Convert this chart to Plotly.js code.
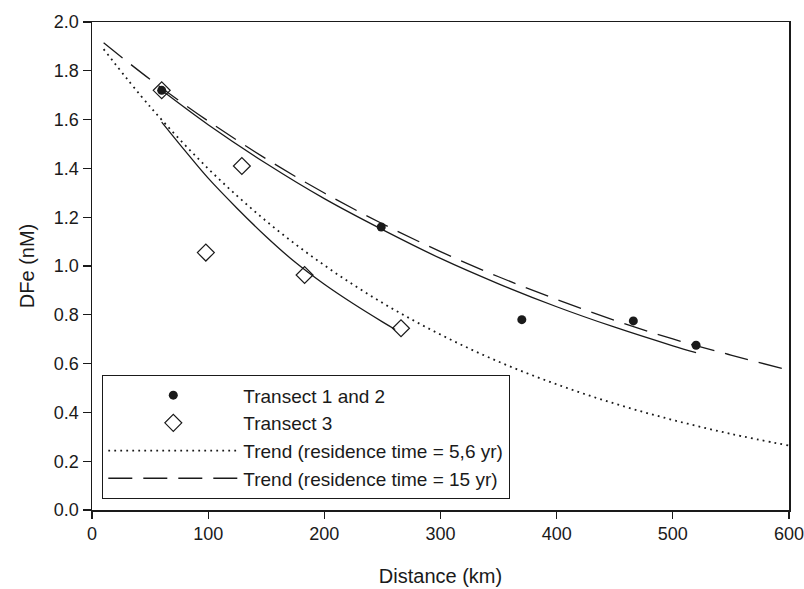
<!DOCTYPE html>
<html>
<head>
<meta charset="utf-8">
<script src="https://cdn.plot.ly/plotly-3.0.1.min.js"></script>
<style>html,body{margin:0;padding:0;background:#fff;}#chart{width:804px;height:589px;}</style>
</head>
<body>
<div id="chart"></div>
<script>
// Observed data
const t12Distance = [60, 249, 370, 466, 520];
const t12DFe = [1.72, 1.16, 0.78, 0.775, 0.675];
const t3Distance = [60, 98, 129, 183, 266];
const t3DFe = [1.72, 1.055, 1.41, 0.963, 0.745];

// Fitted curves
const fit12Distance = [60, 100, 150, 200, 250, 300, 350, 400, 450, 500, 520];
const fit12DFe = [1.72, 1.579, 1.420, 1.276, 1.149, 1.031, 0.927, 0.833, 0.749, 0.673, 0.645];
const fit3Distance = [60, 80, 100, 125, 150, 175, 200, 225, 250, 261];
const fit3DFe = [1.59, 1.473, 1.360, 1.236, 1.120, 1.015, 0.925, 0.845, 0.771, 0.740];

// Trend lines
const trendDistance = [10, 50, 100, 150, 200, 250, 300, 350, 400, 450, 500, 550, 600];
const trend56 = [1.889, 1.653, 1.399, 1.184, 1.003, 0.849, 0.719, 0.608, 0.515, 0.436, 0.369, 0.312, 0.264];
const trend15 = [1.915, 1.765, 1.594, 1.439, 1.299, 1.173, 1.059, 0.956, 0.863, 0.777, 0.701, 0.635, 0.573];

const legendNames = ["Transect 1 and 2", "Transect 3", "Trend (residence time = 5,6 yr)", "Trend (residence time = 15 yr)"];
const xTitle = "Distance (km)";
const yTitle = "DFe (nM)";

const ink = "#1a1a1a";
const traces = [
  {x: fit12Distance, y: fit12DFe, mode: "lines", line: {color: ink, width: 1.3, shape: "spline"}, showlegend: false, hoverinfo: "skip"},
  {x: fit3Distance, y: fit3DFe, mode: "lines", line: {color: ink, width: 1.3, shape: "spline"}, showlegend: false, hoverinfo: "skip"},
  {x: t12Distance, y: t12DFe, mode: "markers", name: legendNames[0],
   marker: {symbol: "circle", size: 9, color: ink, line: {width: 0}}},
  {x: t3Distance, y: t3DFe, mode: "markers", name: legendNames[1],
   marker: {symbol: "diamond-open", size: 13, color: ink, line: {width: 1.2, color: ink}}},
  {x: trendDistance, y: trend56, mode: "lines", name: legendNames[2],
   line: {color: ink, width: 1.8, dash: "1.8px,4.2px", shape: "spline"}},
  {x: trendDistance, y: trend15, mode: "lines", name: legendNames[3],
   line: {color: ink, width: 1.3, dash: "24px,11px", shape: "spline"}}
];

const layout = {
  width: 804, height: 589,
  margin: {l: 92, r: 15, t: 22, b: 79},
  paper_bgcolor: "#fff", plot_bgcolor: "#fff",
  font: {family: "Liberation Sans, Arial, sans-serif", size: 18, color: ink},
  showlegend: true,
  legend: {
    x: (102 - 92) / 697, xanchor: "left",
    y: (510 - 375) / 488, yanchor: "top",
    bordercolor: ink, borderwidth: 1.3, bgcolor: "#fff",
    font: {size: 19, color: ink},
    itemwidth: 130, tracegroupgap: 0,
    traceorder: "normal"
  },
  xaxis: {
    range: [0, 600], dtick: 100, tick0: 0,
    showgrid: false, zeroline: false,
    showline: true, linecolor: ink, linewidth: 1.5, mirror: true,
    ticks: "outside", ticklen: 7, tickwidth: 1.3, tickcolor: ink,
    tickfont: {size: 18}, ticklabeloverflow: "allow",
    title: {text: xTitle, font: {size: 20}, standoff: 26}
  },
  yaxis: {
    range: [0, 2.0], dtick: 0.2, tick0: 0, tickformat: ".1f",
    showgrid: false, zeroline: false,
    showline: true, linecolor: ink, linewidth: 1.5, mirror: true,
    ticks: "outside", ticklen: 8, tickwidth: 1.3, tickcolor: ink,
    tickfont: {size: 18}, ticklabeloverflow: "allow",
    title: {text: yTitle, font: {size: 20}, standoff: 14}
  }
};

Plotly.newPlot("chart", traces, layout, {staticPlot: true});
</script>
</body>
</html>
